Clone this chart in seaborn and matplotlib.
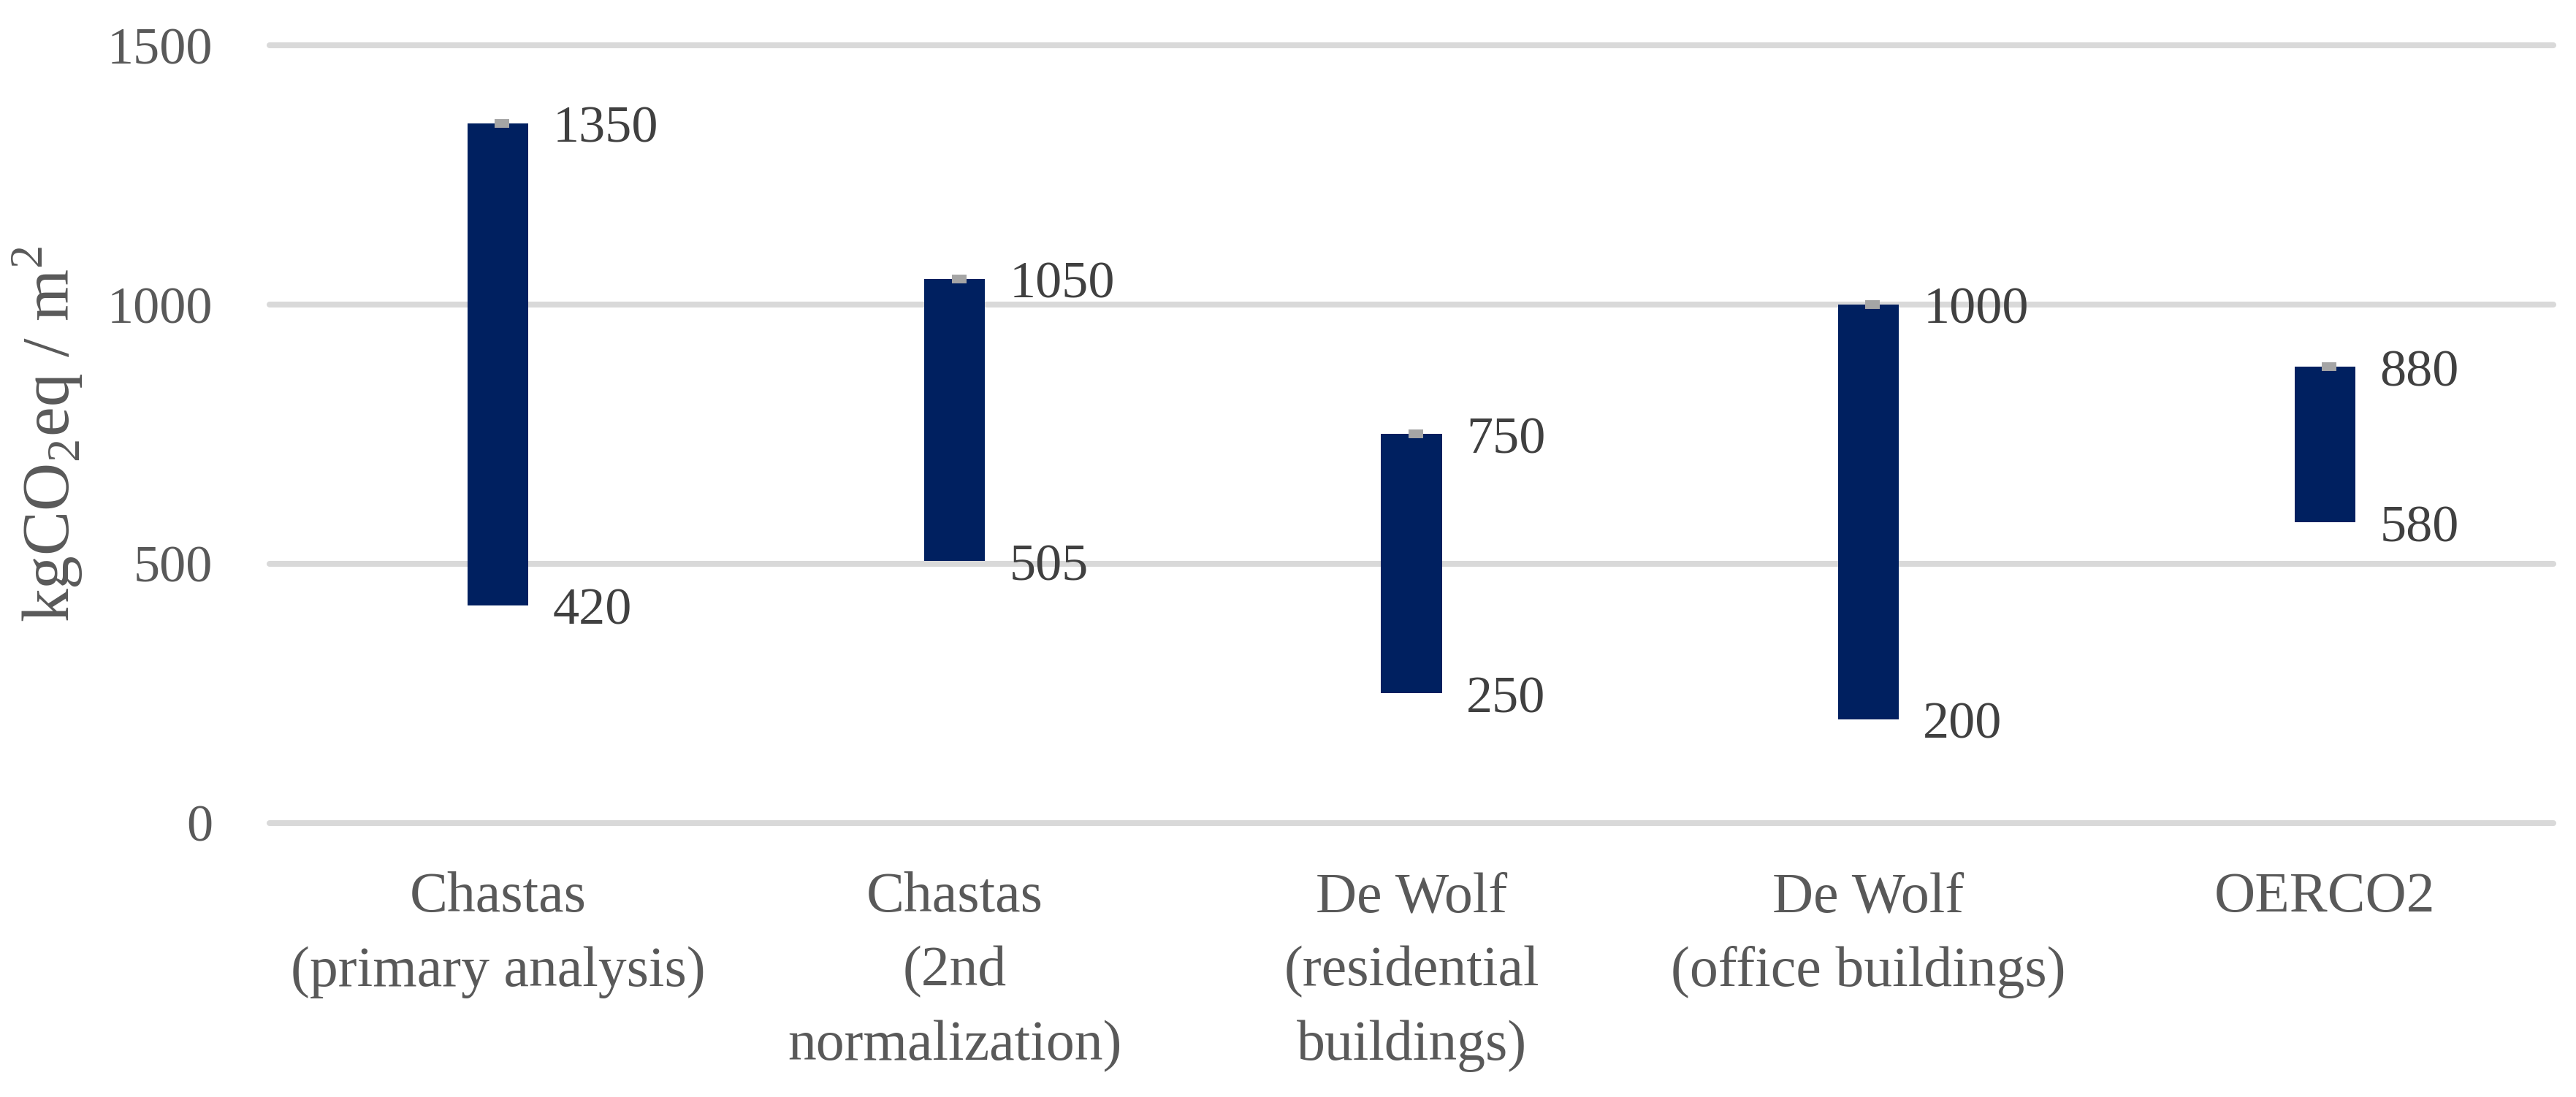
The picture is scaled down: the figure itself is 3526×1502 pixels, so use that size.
import numpy as np
import matplotlib
matplotlib.use("Agg")
import matplotlib.pyplot as plt
import seaborn as sns

# values (kgCO2eq / m2)
studies = ["Chastas\n(primary analysis)", "Chastas\n(2nd\nnormalization)",
           "De Wolf\n(residential\nbuildings)", "De Wolf\n(office buildings)", "OERCO2"]
low = [420, 505, 250, 200, 580]
high = [1350, 1050, 750, 1000, 880]
yticks = [0, 500, 1000, 1500]

sns.set_theme(style="white")
plt.rcParams['font.family'] = ['Liberation Serif', 'DejaVu Serif']   # set after set_theme
plt.rcParams['mathtext.fontset'] = 'custom'
plt.rcParams['mathtext.rm'] = 'Liberation Serif'

fig = plt.figure(figsize=(17.63, 7.51), dpi=200)
ax = fig.add_axes([0.1047, 0.2497, 0.8865, 0.7090])

span = np.array(high) - np.array(low)                                   # floating bars: height from low to high
sns.barplot(x=studies, y=span, order=studies, bottom=low, color='#002060', saturation=1,
            width=0.133, linewidth=0, errorbar=None, ax=ax)

xpos = np.arange(len(studies))
sns.scatterplot(x=xpos + 0.009, y=high, marker='_', s=52, linewidth=4.3, color='#A5A5A5',
                zorder=4, ax=ax, legend=False)

for i in range(len(studies)):                                            # value labels right of each bar
    ax.annotate(str(high[i]), (xpos[i] + 0.12, high[i]), xytext=(0, -3), textcoords='offset points',
                va='center', ha='left', fontsize=26, color='#404040')
    ax.annotate(str(low[i]), (xpos[i] + 0.12, low[i]), xytext=(0, -3), textcoords='offset points',
                va='center', ha='left', fontsize=26, color='#404040')

ax.set_xlim(-0.5, len(studies) - 0.5)
ax.set_ylim(0, 1500)
ax.set_yticks(yticks)
ax.set_yticklabels([str(t) for t in yticks])
ax.set_xticks(xpos)
ax.set_xticklabels(studies, linespacing=1.55)
ax.tick_params(axis='y', length=0, pad=28, labelsize=26, labelcolor='#595959')
ax.tick_params(axis='x', length=0, pad=24, labelsize=28, labelcolor='#595959')

ax.grid(axis='y', color='#D9D9D9', linewidth=2.9)
ax.grid(axis='x', visible=False)
for gl in ax.yaxis.get_gridlines():
    gl.set_clip_on(False)
ax.set_axisbelow(True)
for s in ax.spines.values():
    s.set_visible(False)

ax.set_xlabel('')
ax.set_ylabel(r'kgCO$_\mathregular{2}$eq / m$^\mathregular{2}$', fontsize=33, color='#595959')
ax.yaxis.set_label_coords(-0.081, 0.5)

fig.savefig('out.png', dpi=200, facecolor='white')
